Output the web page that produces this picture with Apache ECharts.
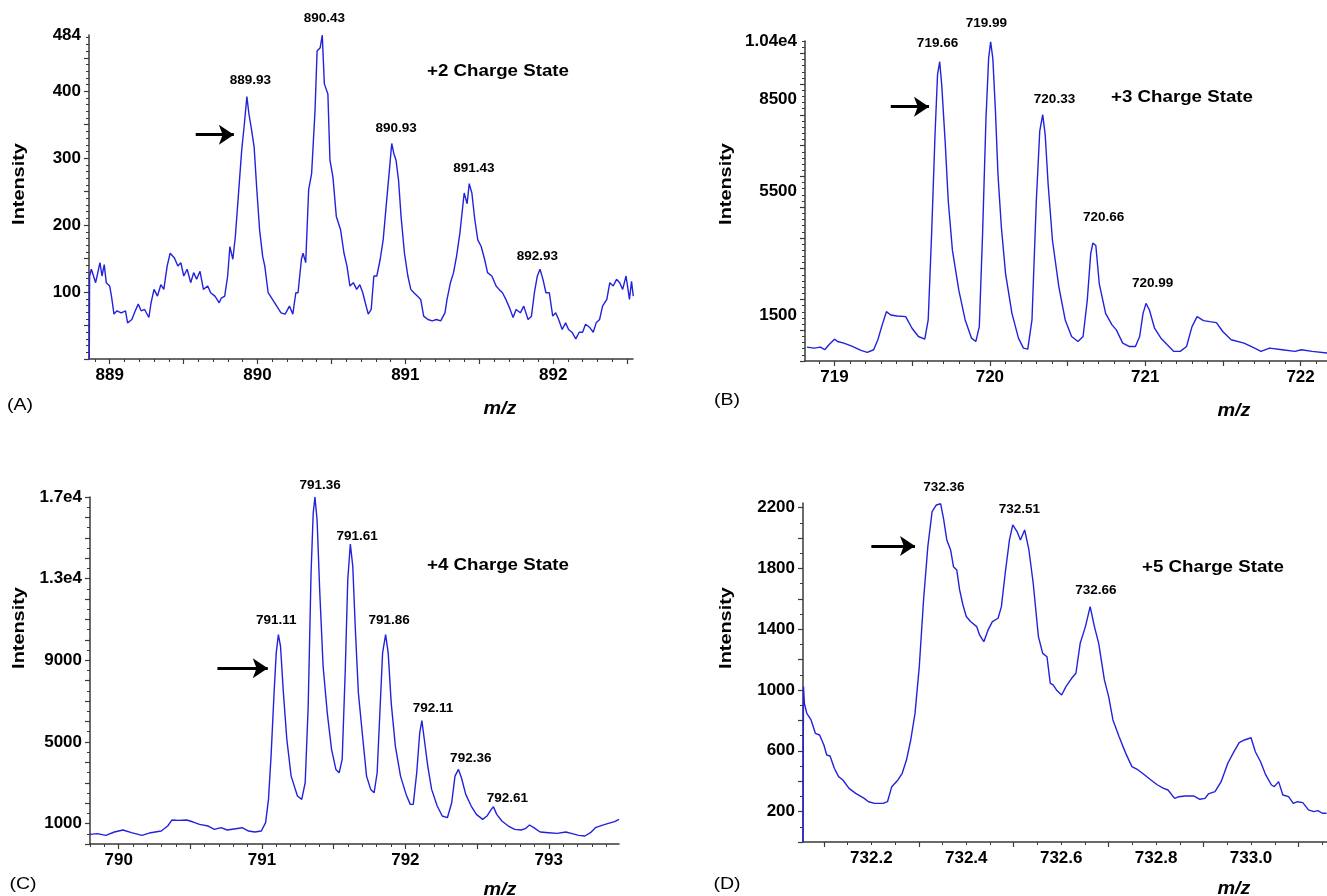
<!DOCTYPE html>
<html>
<head>
<meta charset="utf-8">
<script src="https://cdn.jsdelivr.net/npm/echarts@6/dist/echarts.min.js"></script>
<style>html,body{margin:0;padding:0;background:#fff}#c{width:1327px;height:896px}</style>
</head>
<body>
<div id="c"></div>
<script>
// ---------- Panel A (+2) ----------
const mzA = [888.862,888.864,888.876,888.905,888.934,888.948,888.963,888.977,889.000,889.012,889.029,889.049,889.078,889.107,889.121,889.150,889.173,889.193,889.213,889.236,889.265,889.280,889.300,889.323,889.346,889.366,889.389,889.409,889.438,889.461,889.481,889.501,889.524,889.548,889.568,889.588,889.611,889.634,889.663,889.683,889.712,889.741,889.755,889.778,889.798,889.813,889.833,889.850,889.870,889.893,889.911,889.928,889.942,889.957,889.977,889.994,890.014,890.035,890.049,890.072,890.101,890.130,890.159,890.187,890.216,890.239,890.259,890.274,890.297,890.308,890.326,890.346,890.366,890.389,890.403,890.424,890.438,890.452,890.476,890.490,890.510,890.533,890.562,890.585,890.605,890.625,890.648,890.671,890.692,890.712,890.729,890.749,890.769,890.787,890.807,890.830,890.850,890.870,890.890,890.908,890.922,890.937,890.954,890.971,890.994,891.017,891.037,891.058,891.081,891.104,891.124,891.153,891.182,891.210,891.239,891.268,891.282,891.305,891.326,891.346,891.369,891.398,891.418,891.432,891.450,891.470,891.490,891.513,891.536,891.556,891.585,891.614,891.634,891.657,891.680,891.700,891.729,891.749,891.778,891.801,891.830,891.853,891.873,891.893,891.911,891.931,891.951,891.974,891.997,892.017,892.037,892.061,892.084,892.104,892.127,892.153,892.176,892.199,892.219,892.248,892.271,892.291,892.314,892.334,892.363,892.383,892.406,892.429,892.450,892.470,892.493,892.516,892.530,892.542];
const intA = [0,124,134,114,144,124,141,114,109,94,67,72,69,72,54,59,72,82,72,74,62,84,104,94,111,104,139,158,151,139,144,124,134,114,129,119,131,104,109,99,94,84,91,94,124,168,149,183,243,312,351,392,366,346,317,257,193,153,139,99,89,79,69,67,79,67,99,99,149,158,144,253,277,371,460,465,484,411,396,297,272,213,193,158,139,109,114,104,111,99,84,67,74,124,124,149,178,228,277,322,307,297,267,213,158,124,104,99,94,89,64,59,57,59,57,69,89,114,129,153,188,248,232,262,248,208,178,168,149,129,124,109,104,99,89,79,62,74,69,79,59,64,99,124,134,119,99,99,64,69,59,44,54,44,40,30,40,40,52,47,40,54,59,79,89,114,109,119,114,104,124,89,116,94];
const peakTextA = ['889.93','890.43','890.93','891.43','892.93'];
const peakXA = [889.951,890.452,890.937,891.464,891.893];
const peakYA = [417,509,345,285,154];
const xLabelsA = [889,890,891,892];
const yLabelsA = [100,200,300,400,484];
const arrowA = [889.582,889.840,335];

// ---------- Panel B (+3) ----------
const mzB = [718.822,718.868,718.910,718.937,718.964,719.000,719.019,719.060,719.115,719.170,719.211,719.252,719.279,719.307,719.334,719.362,719.403,719.458,719.499,719.540,719.581,719.603,719.625,719.647,719.663,719.677,719.690,719.712,719.732,719.759,719.800,719.841,719.882,719.910,719.932,719.953,719.975,719.992,720.005,720.019,720.036,720.052,720.074,720.101,720.142,720.184,720.216,720.244,720.271,720.299,720.321,720.340,720.356,720.375,720.403,720.444,720.485,720.526,720.567,720.600,720.627,720.649,720.663,720.682,720.704,720.745,720.786,720.814,720.855,720.896,720.937,720.964,720.986,721.005,721.027,721.060,721.101,721.142,721.184,721.225,721.266,721.301,721.334,721.375,721.416,721.458,721.499,721.553,721.636,721.704,721.745,721.800,721.882,721.964,722.005,722.074,722.178];
const intB = [452,420,452,366,527,710,635,581,473,344,280,366,689,1173,1603,1496,1463,1442,1065,796,710,1334,4132,7360,9297,9727,8974,7145,5208,3594,2303,1334,742,635,1119,4132,7898,9835,10373,9835,8113,6069,4347,2841,1549,742,420,387,1334,5208,7467,8005,7360,5746,3917,2410,1334,796,635,796,1980,3486,3831,3755,2518,1549,1173,1011,581,473,473,796,1549,1872,1657,1065,742,527,312,312,473,1119,1442,1313,1280,1248,958,689,581,420,312,420,366,312,366,312,258];
const peakTextB = ['719.66','719.99','720.33','720.66','720.99'];
const peakXB = [719.663,719.978,720.416,720.732,721.047];
const peakYB = [10319,10964,8490,4670,2539];
const xLabelsB = [719,720,721,722];
const yLabelsB = [1500,5500,8500,10400];
const yTextB = ['1500','5500','8500','1.04e4'];
const arrowB = [719.362,719.608,8264];

// ---------- Panel C (+4) ----------
const mzC = [789.798,789.851,789.911,789.970,790.030,790.089,790.163,790.223,790.297,790.342,790.371,790.416,790.475,790.520,790.564,790.624,790.668,790.713,790.757,790.817,790.861,790.906,790.950,790.995,791.025,791.045,791.063,791.084,791.099,791.114,791.129,791.149,791.173,791.203,791.247,791.277,791.301,791.322,791.342,791.357,791.369,791.384,791.402,791.426,791.455,791.485,791.515,791.538,791.559,791.580,791.598,791.616,791.633,791.651,791.672,791.699,791.729,791.758,791.782,791.803,791.824,791.841,791.862,791.880,791.901,791.930,791.966,792.005,792.034,792.055,792.079,792.100,792.115,792.132,792.156,792.183,792.222,792.257,792.293,792.323,792.346,792.370,792.391,792.421,792.459,792.495,792.539,792.569,792.599,792.614,792.637,792.673,792.718,792.762,792.807,792.836,792.866,792.896,792.940,793.000,793.059,793.119,793.163,793.208,793.252,793.291,793.326,793.371,793.416,793.460,793.490];
const intC = [473,506,424,587,685,554,424,554,636,881,1174,1158,1174,1076,962,881,718,799,685,750,799,636,587,636,1044,2186,4306,7405,9362,10259,9688,7405,5121,3327,2349,2186,3001,6752,13276,16212,16995,15886,12461,8710,6426,4632,3653,3490,4143,8383,12950,14695,13603,10504,7405,5448,3327,2675,2512,3490,6752,9362,10259,9362,6915,4795,3327,2430,1941,1941,3490,5448,6045,5121,3816,2675,1859,1370,1289,2022,3327,3653,3246,2430,1859,1452,1207,1370,1696,1827,1452,1125,881,718,685,750,930,799,587,554,522,587,506,424,391,554,799,913,1011,1093,1207];
const peakTextC = ['791.11','791.36','791.61','791.86','792.11','792.36','792.61'];
const peakXC = [791.099,791.405,791.663,791.886,792.192,792.456,792.712];
const peakYC = [10960,17598,15070,10960,6671,4175,2218];
const xLabelsC = [790,791,792,793];
const yLabelsC = [1000,5000,9000,13000,17000];
const yTextC = ['1000','5000','9000','1.3e4','1.7e4'];
const arrowC = [790.689,791.040,8612];

// ---------- Panel D (+5) ----------
const mzD = [732.056,732.057,732.059,732.064,732.073,732.082,732.091,732.100,732.106,732.113,732.122,732.131,732.140,732.153,732.167,732.185,732.194,732.207,732.225,732.234,732.243,732.256,732.265,732.274,732.283,732.292,732.301,732.310,732.319,732.328,732.337,732.346,732.352,732.359,732.367,732.373,732.380,732.386,732.393,732.400,732.409,732.422,732.428,732.437,732.446,732.455,732.467,732.474,732.482,732.491,732.498,732.507,732.514,732.523,732.532,732.541,732.552,732.561,732.570,732.577,732.583,732.590,732.601,732.610,732.622,732.631,732.640,732.651,732.661,732.670,732.679,732.691,732.700,732.709,732.722,732.736,732.749,732.762,732.776,732.789,732.803,732.816,732.825,732.839,732.848,732.861,732.879,732.892,732.903,732.910,732.924,732.937,732.951,732.964,732.975,732.986,733.000,733.009,733.020,733.031,733.043,733.049,733.058,733.067,733.079,733.089,733.098,733.109,733.121,733.132,733.141,733.150,733.159];
const intD = [0,1022,912,846,803,715,704,638,572,566,485,430,408,353,320,287,265,254,254,265,364,408,452,539,671,846,1154,1592,1943,2173,2217,2225,2129,1987,1921,1811,1789,1658,1559,1483,1450,1417,1362,1318,1395,1450,1472,1548,1768,1987,2086,2042,1987,2053,1921,1702,1351,1241,1219,1044,1033,1000,967,1022,1077,1110,1307,1417,1548,1417,1307,1066,956,803,693,583,496,474,441,408,375,353,342,287,298,303,303,281,287,316,331,397,518,594,654,671,686,594,528,441,375,364,397,309,298,254,265,259,211,200,206,189,189];
const peakTextD = ['732.36','732.51','732.66'];
const peakXD = [732.353,732.512,732.673];
const peakYD = [2331,2189,1658];
const xLabelsD = [732.2,732.4,732.6,732.8,733.0];
const yLabelsD = [200,600,1000,1400,1800,2200];
const arrowD = [732.200,732.292,1947];

const panels = [
  {mz: mzA, it: intA, pt: peakTextA, px: peakXA, py: peakYA, xl: xLabelsA, xd: 0, yl: yLabelsA, yt: null, arrow: arrowA,
   xmin: 888.86, xmax: 892.54, ymin: 0, ymax: 484, xMajor: 0.5, xMajorOff: 0.5, xMinor: 0.1, yMajor: 50, yMinor: 10,
   grid: {left: 89, top: 35, width: 544, height: 324}, charge: '+2 Charge State', cx: 498, cy: 72, tag: '(A)', tx: 20, ty: 405, ix: 19, iy: 184, mx: 500, my: 409},
  {mz: mzB, it: intB, pt: peakTextB, px: peakXB, py: peakYB, xl: xLabelsB, xd: 0, yl: yLabelsB, yt: yTextB, arrow: arrowB,
   xmin: 718.81, xmax: 722.17, ymin: 0, ymax: 10400, xMajor: 0.5, xMajorOff: 0.5, xMinor: 0.1, yMajor: 1000, yMinor: 200,
   grid: {left: 805, top: 41, width: 522, height: 320}, charge: '+3 Charge State', cx: 1182, cy: 98, tag: '(B)', tx: 727, ty: 400, ix: 726, iy: 184, mx: 1234, my: 411},
  {mz: mzC, it: intC, pt: peakTextC, px: peakXC, py: peakYC, xl: xLabelsC, xd: 0, yl: yLabelsC, yt: yTextC, arrow: arrowC,
   xmin: 789.80, xmax: 793.49, ymin: 0, ymax: 17000, xMajor: 0.5, xMajorOff: 0.5, xMinor: 0.1, yMajor: 1000, yMinor: 500,
   grid: {left: 90, top: 497, width: 529, height: 347}, charge: '+4 Charge State', cx: 498, cy: 566, tag: '(C)', tx: 23, ty: 884, ix: 19, iy: 628, mx: 500, my: 890},
  {mz: mzD, it: intD, pt: peakTextD, px: peakXD, py: peakYD, xl: xLabelsD, xd: 1, yl: yLabelsD, yt: null, arrow: arrowD,
   xmin: 732.056, xmax: 733.16, ymin: 0, ymax: 2230, xMajor: 0.2, xMajorOff: 0.1, xMinor: 0.05, yMajor: 200, yMinor: 100,
   grid: {left: 803, top: 503, width: 524, height: 339}, charge: '+5 Charge State', cx: 1213, cy: 568, tag: '(D)', tx: 727, ty: 884, ix: 726, iy: 628, mx: 1234, my: 889}
];

function steps(min, max, step, offset) {
  const out = [];
  const start = Math.ceil((min - offset) / step - 1e-9);
  for (let k = start; offset + k * step <= max + 1e-9; k++) out.push(+(offset + k * step).toFixed(4));
  return out;
}

const FONT = 'Liberation Sans, Arial, Helvetica, sans-serif';
const AXC = '#3a3a3a';
const grids = [], xAxes = [], yAxes = [], series = [], graphics = [];

panels.forEach((p, i) => {
  grids.push(Object.assign({containLabel: false}, p.grid));
  xAxes.push({
    type: 'value', gridIndex: i, min: p.xmin, max: p.xmax, position: 'bottom', offset: 0,
    axisLine: {show: true, onZero: false, lineStyle: {color: AXC, width: 1.5}},
    axisTick: {show: true, inside: false, length: 5, lineStyle: {color: AXC, width: 1.2}, customValues: steps(p.xmin, p.xmax, p.xMajor, p.xMajorOff)},
    axisLabel: {show: true, customValues: p.xl, margin: 8, color: '#000', fontFamily: FONT, fontWeight: 'bold', fontSize: 17,
      formatter: v => v.toFixed(p.xd)},
    splitLine: {show: false}
  });
  xAxes.push({
    type: 'value', gridIndex: i, min: p.xmin, max: p.xmax, position: 'bottom', offset: 0,
    axisLine: {show: false, onZero: false},
    axisTick: {show: true, inside: false, length: 3, lineStyle: {color: AXC, width: 1}, customValues: steps(p.xmin, p.xmax, p.xMinor, 0)},
    axisLabel: {show: false}, splitLine: {show: false}
  });
  yAxes.push({
    type: 'value', gridIndex: i, min: p.ymin, max: p.ymax, position: 'left', offset: 0,
    axisLine: {show: true, onZero: false, lineStyle: {color: AXC, width: 1.5}},
    axisTick: {show: true, inside: false, length: 5, lineStyle: {color: AXC, width: 1.2}, customValues: steps(p.ymin, p.ymax, p.yMajor, 0)},
    axisLabel: {show: true, customValues: p.yl, margin: 8, color: '#000', fontFamily: FONT, fontWeight: 'bold', fontSize: 17,
      formatter: v => p.yt ? p.yt[p.yl.indexOf(v)] : String(v)},
    splitLine: {show: false}
  });
  yAxes.push({
    type: 'value', gridIndex: i, min: p.ymin, max: p.ymax, position: 'left', offset: 0,
    axisLine: {show: false, onZero: false},
    axisTick: {show: true, inside: false, length: 3, lineStyle: {color: AXC, width: 1}, customValues: steps(p.ymin, p.ymax, p.yMinor, 0)},
    axisLabel: {show: false}, splitLine: {show: false}
  });
  series.push({
    type: 'line', xAxisIndex: 2 * i, yAxisIndex: 2 * i,
    data: p.mz.map((m, k) => [m, p.it[k]]),
    showSymbol: false, symbol: 'none', smooth: false,
    lineStyle: {color: '#2222dd', width: 1.4}, silent: true,
    markLine: {
      silent: true, symbol: ['none', 'arrow'], symbolSize: 15, label: {show: false},
      itemStyle: {color: '#000'},
      lineStyle: {color: '#000', width: 3, type: 'solid'},
      emphasis: {disabled: true},
      data: [[{coord: [p.arrow[0], p.arrow[2]]}, {coord: [p.arrow[1], p.arrow[2]]}]]
    }
  });
  series.push({
    type: 'scatter', xAxisIndex: 2 * i, yAxisIndex: 2 * i, clip: false, silent: true,
    symbolSize: 1, itemStyle: {opacity: 0},
    data: p.pt.map((t, k) => ({name: t, value: [p.px[k], p.py[k]]})),
    label: {show: true, position: 'inside', formatter: '{b}', color: '#000', opacity: 1, fontFamily: FONT, fontWeight: 'bold', fontSize: 13.5}
  });
  graphics.push({type: 'text', x: p.cx, y: p.cy, scaleX: 1.17, style: {text: p.charge, fill: '#000', font: 'bold 16px ' + FONT, textAlign: 'center', textVerticalAlign: 'middle'}});
  graphics.push({type: 'text', x: p.tx, y: p.ty, scaleX: 1.15, style: {text: p.tag, fill: '#000', font: '17px ' + FONT, textAlign: 'center', textVerticalAlign: 'middle'}});
  graphics.push({type: 'text', x: p.ix, y: p.iy, rotation: Math.PI / 2, scaleX: 1.17, style: {text: 'Intensity', fill: '#000', font: 'bold 17px ' + FONT, textAlign: 'center', textVerticalAlign: 'middle'}});
  graphics.push({type: 'text', x: p.mx, y: p.my, scaleX: 1.1, style: {text: 'm/z', fill: '#000', font: 'italic bold 18px ' + FONT, textAlign: 'center', textVerticalAlign: 'middle'}});
});

const chart = echarts.init(document.getElementById('c'), null, {renderer: 'canvas'});
chart.setOption({
  animation: false,
  backgroundColor: '#fff',
  grid: grids, xAxis: xAxes, yAxis: yAxes, series: series, graphic: graphics
});
</script>
</body>
</html>
